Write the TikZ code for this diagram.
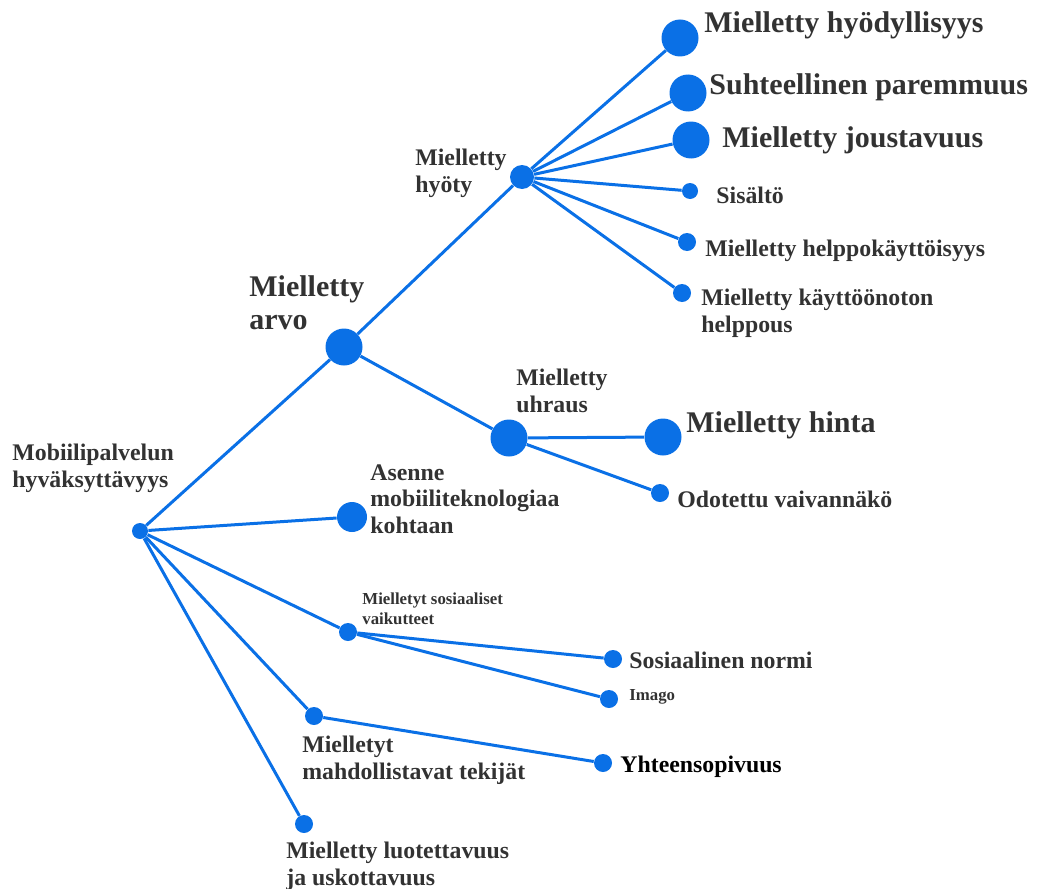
\documentclass[tikz,border=0pt]{standalone}
\usepackage{fontspec}
\setmainfont{Liberation Serif}
\usetikzlibrary{shapes.geometric}

\definecolor{dotblue}{RGB}{10,112,230}
\definecolor{labelgray}{RGB}{50,50,50}

\begin{document}
\begin{tikzpicture}[x=0.5pt,y=-0.5pt]

% Text sizes
\def\bigtext{\fontsize{15}{16.5}\selectfont}
\def\midtext{\fontsize{11.9}{13.25}\selectfont}
\def\smalltext{\fontsize{8.4}{10}\selectfont}

% Styles
\tikzstyle{link}=[dotblue, line width=1.5pt]
\tikzstyle{dot}=[circle, fill=dotblue, inner sep=0pt, minimum size=9pt]
\tikzstyle{mid dot}=[dot, minimum size=15pt]
\tikzstyle{big dot}=[dot, minimum size=18.5pt]
\tikzstyle{label}=[inner sep=0pt, align=left, text=labelgray, font=\bfseries]

\useasboundingbox (0,0) rectangle (1037,888);

% Dots
\node[dot, minimum size=8pt] (root) at (140,531) {};
\node[big dot] (arvo) at (344,347) {};
\node[dot, minimum size=12pt] (hyoty) at (522,177) {};
\node[big dot] (hyod) at (680,38) {};
\node[big dot] (parem) at (688,93) {};
\node[big dot] (joust) at (691,140) {};
\node[dot, minimum size=8pt] (sis) at (690,191) {};
\node[dot] (helppo) at (687,242) {};
\node[dot] (kaytto) at (682,293) {};
\node[big dot] (uhraus) at (509,438) {};
\node[big dot] (hinta) at (663,437) {};
\node[dot] (vaiva) at (660,493) {};
\node[mid dot] (asenne) at (352,517) {};
\node[dot] (sosiaal) at (348,632) {};
\node[dot] (normi) at (613,659) {};
\node[dot] (imago) at (609,699) {};
\node[dot] (mahdol) at (314,716) {};
\node[dot] (yhteen) at (603,763) {};
\node[dot] (luotet) at (304,824) {};

% Branches
\draw[link] (root) -- (arvo);
\draw[link] (root) -- (asenne);
\draw[link] (root) -- (sosiaal);
\draw[link] (root) -- (mahdol);
\draw[link] (root) -- (luotet);
\draw[link] (arvo) -- (hyoty);
\draw[link] (arvo) -- (uhraus);
\foreach \leaf in {hyod,parem,joust,sis,helppo,kaytto}
  \draw[link] (hyoty) -- (\leaf);
\draw[link] (uhraus) -- (hinta);
\draw[link] (uhraus) -- (vaiva);
\draw[link] (sosiaal) -- (normi);
\draw[link] (sosiaal) -- (imago);
\draw[link] (mahdol) -- (yhteen);

% Labels
\node[label, anchor=base west, font=\bfseries\bigtext] (hyod-txt) at (704,33) {Mielletty hyödyllisyys};
\node[label, anchor=base west, font=\bfseries\bigtext] (parem-txt) at (709,95) {Suhteellinen paremmuus};
\node[label, anchor=base west, font=\bfseries\bigtext] (joust-txt) at (722,147) {Mielletty joustavuus};
\node[label, anchor=base west, font=\bfseries\bigtext] (hinta-txt) at (686,432) {Mielletty hinta};
\node[label, anchor=north west, font=\bfseries\bigtext] (arvo-txt) at (249,275) {Mielletty\\arvo};

\node[label, anchor=base west, font=\bfseries\midtext] (sis-txt) at (716,203) {Sisältö};
\node[label, anchor=base west, font=\bfseries\midtext] (helppo-txt) at (705,256) {Mielletty helppokäyttöisyys};
\node[label, anchor=north west, font=\bfseries\midtext] (kaytto-txt) at (701,289) {Mielletty käyttöönoton\\helppous};
\node[label, anchor=north west, font=\bfseries\midtext] (hyoty-txt) at (415,149) {Mielletty\\hyöty};
\node[label, anchor=north west, font=\bfseries\midtext] (uhraus-txt) at (516,369) {Mielletty\\uhraus};
\node[label, anchor=base west, font=\bfseries\midtext] (vaiva-txt) at (677,507) {Odotettu vaivannäkö};
\node[label, anchor=north west, font=\bfseries\midtext] (root-txt) at (12,444) {Mobiilipalvelun\\hyväksyttävyys};
\node[label, anchor=north west, font=\bfseries\midtext] (asenne-txt) at (370,464) {Asenne\\mobiiliteknologiaa\\kohtaan};
\node[label, anchor=base west, font=\bfseries\midtext] (normi-txt) at (629,668) {Sosiaalinen normi};
\node[label, anchor=north west, font=\bfseries\midtext] (mahdol-txt) at (302,736) {Mielletyt\\mahdollistavat tekijät};
\node[label, anchor=base west, font=\bfseries\midtext, text=black] (yhteen-txt) at (620,772) {Yhteensopivuus};
\node[label, anchor=north west, font=\bfseries\midtext] (luotet-txt) at (286,842) {Mielletty luotettavuus\\ja uskottavuus};

\node[label, anchor=north west, font=\bfseries\smalltext] (sosiaal-txt) at (362,592) {Mielletyt sosiaaliset\\vaikutteet};
\node[label, anchor=base west, font=\bfseries\smalltext] (imago-txt) at (629,700) {Imago};

\end{tikzpicture}
\end{document}
